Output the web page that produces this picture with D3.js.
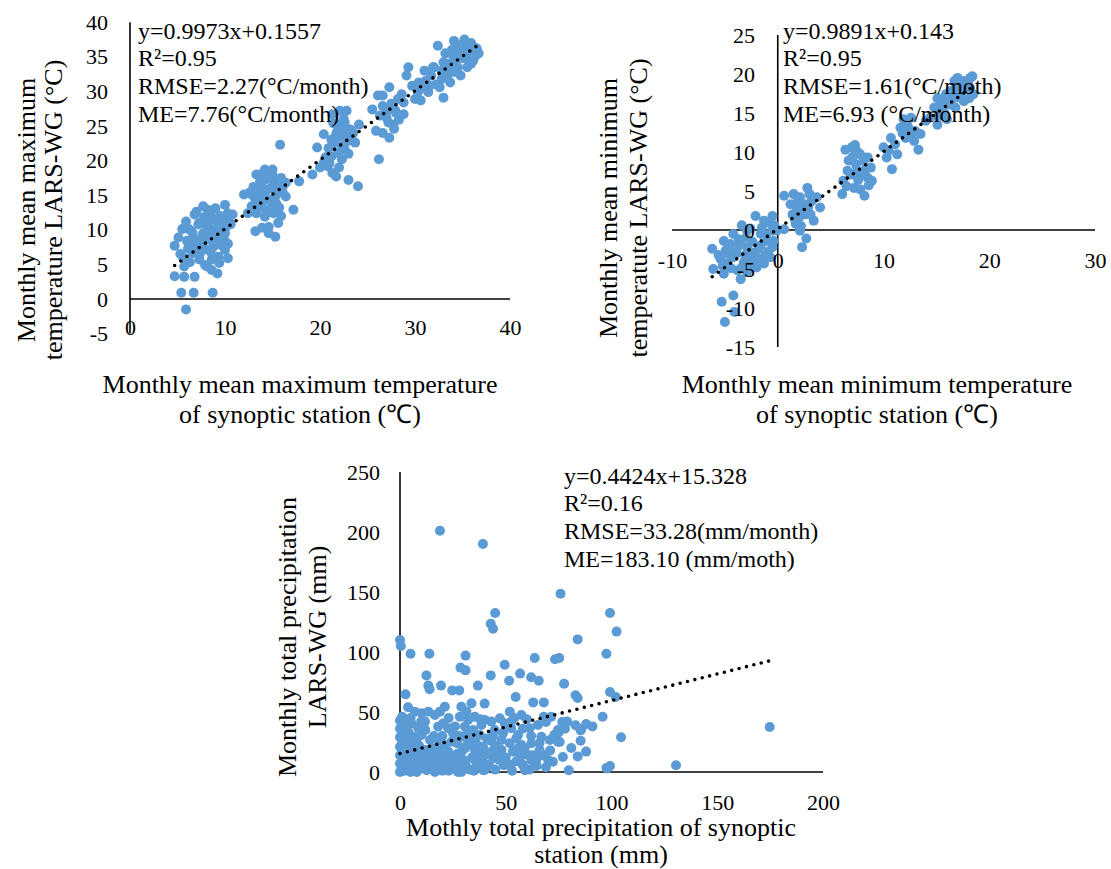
<!DOCTYPE html>
<html>
<head>
<meta charset="utf-8">
<script src="https://cdnjs.cloudflare.com/ajax/libs/d3/7.8.5/d3.min.js"></script>
<style>
body{margin:0;background:#fff}
svg text{font-family:"Liberation Serif","Times New Roman",serif;fill:#000}
</style>
</head>
<body>
<svg id="chart"></svg>
<script>

// ---- data ----
var tmaxTicksX = [0,10,20,30,40];
var tmaxTicksY = [-5,0,5,10,15,20,25,30,35,40];
var tminTicksX = [-10,0,10,20,30];
var tminTicksY = [-15,-10,-5,0,5,10,15,20,25];
var precTicksX = [0,50,100,150,200];
var precTicksY = [0,50,100,150,200,250];

var tmaxFit = [0.9973,0.1557];
var tminFit = [0.9891,0.143];
var precFit = [0.4424,15.328];

var tmaxStats = ["y=0.9973x+0.1557","R²=0.95","RMSE=2.27(°C/month)","ME=7.76(°C/month)"];
var tminStats = ["y=0.9891x+0.143","R²=0.95","RMSE=1.61(°C/moth)","ME=6.93 (°C/month)"];
var precStats = ["y=0.4424x+15.328","R²=0.16","RMSE=33.28(mm/month)","ME=183.10 (mm/moth)"];

var tmaxTitles = {x:["Monthly mean maximum temperature","of synoptic station (℃)"],
                  y:["Monthly mean maximum","temperature LARS-WG (°C)"]};
var tminTitles = {x:["Monthly mean minimum temperature","of synoptic station (℃)"],
                  y:["Monthly mean minimum","temperatute LARS-WG (°C)"]};
var precTitles = {x:["Mothly total precipitation of synoptic","station (mm)"],
                  y:["Monthly total precipitation","LARS-WG (mm)"]};

// [station, LARS-WG]
var tmaxPoints = [
[5.9,-1.5],[5.4,0.9],[6.7,0.9],[8.7,0.9],[4.7,3.3],[5.7,3.2],[6.8,3.2],[5.7,4.7],[4.7,7.7],[5.3,6.5],
[5.9,11.2],[6.2,10.1],[5.5,10.1],[6.6,9.5],[7.0,8.6],[7.7,13.4],[8.2,12.9],[7.3,11.0],[8.1,12.0],[8.8,11.5],
[9.5,12.0],[10.0,13.6],[10.3,12.4],[10.4,11.5],[10.0,9.5],[8.3,8.6],[8.8,7.6],[9.3,6.1],[7.3,5.7],[8.1,4.7],
[8.6,4.2],[9.2,3.7],[10.3,5.9],[10.0,7.1],[10.3,8.0],[6.1,7.3],[6.6,6.6],[7.7,9.5],[8.1,10.5],[9.0,10.0],
[9.5,9.5],[9.9,8.6],[8.6,5.7],[6.5,9.8],[7.2,10.8],[7.8,11.8],[8.4,10.2],[9.1,11.3],[9.8,10.7],[7.5,8.2],
[8.0,7.2],[8.9,9.1],[9.6,7.8],[6.0,8.4],[6.9,7.5],[7.3,6.4],[8.5,6.8],[9.4,5.2],[10.6,10.8],[10.8,12.2],
[5.1,8.9],[6.3,5.3],[9.0,13.1],[8.5,12.3],[7.9,4.9],[6.8,12.2],[5.6,6.0],[7.0,12.6],[8.3,9.6],[9.7,11.9],
[6.4,8.2],[7.6,7.0],[9.2,8.3],[8.0,11.2],[10.1,10.4],
[13.2,9.8],[13.9,10.3],[14.6,9.5],[15.3,9.0],[12.0,15.1],[12.6,15.4],[13.3,18.0],[14.2,18.7],[15.0,18.7],[13.7,17.0],
[14.4,17.3],[15.2,16.8],[15.9,17.5],[16.1,16.3],[13.2,14.4],[13.9,13.9],[14.6,14.4],[15.3,14.8],[13.3,12.4],[14.2,11.9],
[15.1,12.4],[15.7,13.2],[15.9,12.0],[16.1,15.3],[16.4,14.8],[15.8,22.3],[17.2,12.9],[17.8,17.0],[13.7,15.3],[14.4,15.8],
[12.8,13.4],[12.4,12.4],[13.0,16.2],[13.8,16.5],[14.8,16.0],[15.5,15.6],[14.1,14.6],[14.9,13.3],[13.5,13.0],[15.6,11.0],
[14.4,12.8],[12.9,15.0],[16.4,16.8],[15.0,17.9],[14.6,10.4],[14.0,18.2],[14.8,17.6],[13.6,14.2],[15.4,13.8],
[19.2,18.0],[19.7,21.9],[20.4,23.8],[20.8,19.2],[21.3,18.2],[21.7,17.7],[21.2,20.6],[21.9,21.1],[22.6,21.6],[21.2,23.0],
[22.1,23.5],[22.8,24.0],[21.3,26.7],[22.1,27.2],[22.8,27.2],[21.9,25.2],[22.6,25.5],[23.2,24.5],[23.0,17.2],[24.0,16.3],
[24.1,25.2],[23.7,22.6],[20.4,19.7],[22.3,20.2],[23.3,23.3],[20.9,21.8],[21.5,22.5],[22.3,22.1],[21.8,24.2],[22.5,26.0],
[20.6,20.5],[21.0,19.6],[23.0,21.0],[22.0,19.0],[23.5,24.0],[21.4,25.4],[20.0,19.0],[22.9,22.8],[21.7,23.8],[22.4,24.6],
[26.2,20.2],[25.9,24.3],[26.6,24.0],[27.3,23.3],[25.5,27.4],[26.1,29.4],[26.6,29.4],[27.3,30.6],[26.6,27.9],[27.3,27.4],
[28.0,26.9],[27.0,26.2],[27.7,25.2],[28.3,25.9],[28.8,26.7],[28.6,29.6],[28.8,28.4],[26.9,26.8],[27.5,28.2],[27.9,27.3],
[26.3,26.5],[28.2,28.9],[27.2,25.5],[27.8,24.6],
[29.3,33.5],[29.1,32.3],[29.7,30.8],[30.4,31.3],[31.1,31.5],[30.0,28.9],[30.6,28.7],[31.0,33.0],[30.3,29.9],[31.4,29.9],
[31.9,33.5],[32.4,36.6],[33.0,29.1],[32.6,30.6],[34.8,32.3],[32.0,33.5],[32.8,33.0],[33.5,32.5],[33.2,35.5],[33.9,36.0],
[34.6,36.5],[34.1,37.3],[35.2,37.5],[35.9,37.0],[36.3,35.0],[36.7,35.5],[33.5,34.0],[34.3,34.5],[35.0,34.8],[35.5,33.5],
[35.9,34.0],[32.8,31.8],[33.7,31.3],[35.7,36.0],[36.3,36.3],[31.7,32.3],[30.8,30.5],[31.5,30.8],[32.2,31.0],[33.0,34.2],
[34.0,35.2],[34.7,35.6],[35.3,35.9],[35.8,35.3],[36.1,34.4],[34.5,33.5],[33.8,33.0],[35.0,36.8],[34.2,32.8],[36.5,36.2],
[35.6,34.6]
];

var tminPoints = [
[-5.0,-11.8],[-5.3,-9.2],[-4.2,-8.4],[-4.1,-10.5],[-6.2,-2.4],[-6.1,-5.0],[-5.1,-1.4],[-4.5,-1.8],[-3.8,-2.2],[-5.4,-3.7],
[-4.8,-4.3],[-4.2,-3.5],[-5.1,-5.6],[-3.5,-6.3],[-3.8,-5.2],[-3.4,0.6],[-2.9,-0.1],[-3.5,-1.4],[-2.9,-2.2],[-2.3,-2.9],
[-2.6,-3.9],[-2.0,-4.8],[-1.3,-4.3],[-2.1,1.8],[-1.3,1.2],[-0.5,1.8],[-1.6,-0.5],[-1.0,-1.4],[-0.5,-0.1],[-1.8,-2.4],
[-1.2,-3.3],[-0.5,-2.2],[-2.9,-5.4],[-3.4,-4.8],[-4.2,-0.5],[-4.6,-3.1],[-0.7,-3.5],[-0.4,-1.4],[-0.1,-0.1],[-4.9,-2.6],
[-3.9,-3.0],[-3.1,-3.2],[-2.4,-1.5],[-1.9,-3.6],[-1.5,0.3],[-0.9,-2.8],[-2.6,0.2],[-3.2,-4.1],[-4.4,-4.9],[-5.6,-3.2],
[-2.2,-4.3],[-1.1,-0.6],[-0.3,0.6],[-3.7,-1.2],[-4.0,-2.7],[-3.0,-1.0],[-2.5,-4.5],[-1.6,-2.0],[-0.8,0.9],[-5.2,-4.6],
[0.6,0.1],[0.6,4.4],[1.5,4.6],[2.1,4.2],[2.8,5.4],[1.2,3.3],[1.8,2.9],[2.5,3.3],[1.4,2.0],[2.0,1.6],
[2.6,2.0],[1.7,0.8],[2.1,-0.1],[2.7,-1.1],[2.3,-2.2],[3.2,3.7],[3.7,4.2],[4.0,2.9],[3.1,2.0],[3.4,1.2],
[1.9,3.8],[2.4,2.6],[2.9,3.0],[1.6,1.4],[2.2,0.5],[3.0,4.6],
[6.1,4.6],[8.2,4.4],[6.4,10.3],[7.0,10.6],[7.5,10.1],[7.8,9.7],[6.2,6.3],[6.9,7.1],[7.5,7.6],[6.7,8.9],
[7.4,8.4],[8.1,8.9],[8.5,9.3],[8.8,8.0],[7.2,5.4],[7.8,5.2],[8.6,5.7],[6.6,7.6],[8.5,6.7],[8.9,6.3],
[7.1,9.4],[7.9,7.0],[8.3,7.8],[6.5,5.6],[7.6,6.4],[7.3,10.9],
[10.0,10.6],[10.3,9.3],[10.8,7.8],[10.7,11.8],[11.1,11.0],[11.6,13.1],[12.1,11.8],[12.6,12.3],[11.9,14.2],[12.6,14.4],
[13.3,10.3],[13.0,12.7],[13.5,12.3],[11.3,9.7],[11.8,12.4],[12.3,13.3],[10.5,10.2],[12.9,11.4],
[14.0,14.0],[14.4,14.4],[15.1,13.5],[14.8,15.7],[15.4,16.1],[15.7,16.5],[15.1,16.9],[15.9,17.4],[16.3,17.8],[16.7,19.1],
[17.0,19.5],[17.6,19.1],[18.2,19.5],[18.4,19.7],[18.5,17.4],[18.1,16.9],[17.6,16.5],[16.8,18.2],[17.3,17.6],[16.3,16.1],
[16.8,15.7],[17.6,18.0],[18.2,18.2],[15.7,15.2],[15.2,14.6],[16.0,14.2],[17.0,17.0],[18.0,18.8],[16.5,16.9]
];

var precPoints = [
[18.9,201],[39.2,190],[0,110],[0.4,105],[5,98.6],[13.9,98.6],[31,97],[75.9,148.6],[45,132.5],[42.9,123.6],
[44,119.4],[99.3,132.5],[102.4,117],[84,110.5],[97.6,98.6],[63.7,95],[73.3,94],[75.3,95],[49.5,89.4],[28.6,87],
[31,84.7],[42.9,80.5],[51.6,76],[56.8,82],[62,79],[65.6,76],[77.6,73.6],[12.5,80.5],[13.4,72],[2.6,64.7],
[14,69],[19.4,72],[24.7,68],[28,68],[36.8,72],[99.3,66.7],[102,62.5],[54.7,62.5],[83,64],[84,61.7],
[63,58],[68,58],[40,57],[3.8,54],[95.8,46],[104.5,29],[174.8,37.5],[130.5,5.6],[97.6,3.3],[99.3,5],
[88,17],[85.4,26],[85.4,34.7],[77,12.5],[79.8,1.4],[75,33],[76.7,41.7],[69,41.7],[71.5,46],[59,1.4],
[28,1.4],[29,16.7],[30,20],[49,5.6],[51.6,5.6],[39.4,1.4],[79,42],[83,39],[85.7,35.6],[75.5,25],
[74.7,35],[98,3],
[0,43],[0,36],[0,29],[0,21],[0,14],[0,7],[0,0],[1.6,40],[2.4,27],[1.5,4],
[7,50.3],[10.2,49],[13.4,50.3],[5.5,40.5],[8.6,36.4],[11.8,42],[6.3,29.4],[10.2,30.8],[14.2,26.7],[4.7,19.7],
[7.9,15.6],[11.8,18.3],[5.5,9.7],[9.4,7],[13.4,11.1],[3.9,1.4],[7.9,0],[12.6,1.4],[16.5,0],[18,37.8],
[20.4,40.5],[22.8,36.4],[25.1,32.2],[16.5,47.5],[18.9,50.3],[21.2,54.4],[18,26.7],[21.2,22.5],[24.4,25.3],[18.9,15.6],
[22.8,17],[25.9,12.8],[20.4,5.8],[24.4,3],[29,0],[29,54.4],[31.4,50.3],[33.8,57.2],[28.3,46.1],[32.2,43.3],
[35.4,46.1],[30.7,37.8],[34.6,35],[38.5,39.2],[29.9,29.4],[33.8,26.7],[37.7,30.8],[30.7,19.7],[35.4,18.3],[39.3,21.1],
[43.2,16.9],[35.4,10],[40.1,14.2],[44,11.4],[40.1,43.3],[43.2,42],[47.2,44.7],[49.5,40.6],[44.8,35],[48.7,32.2],
[52.6,36.4],[55.8,30.8],[48,26.7],[51.9,24],[55,28.1],[57.4,22.5],[48,18.3],[53.4,17],[58.9,19.7],[60.5,14.2],
[51.9,50.3],[57.4,47.5],[52.6,42],[61.3,36.4],[65.2,39.2],[66.8,29.4],[62.1,23.9],[66,18.3],[67.6,14.2],[64.5,5.8],
[70,10],[72.3,8.6],[70.8,26.7],[74.7,25.3],[49.5,6],[52.4,6],[59,3],[64.5,5],[40,1.7],[27.4,0],
[29.4,4.4],[3,12],[2,22],[4,33],[1,46],[6,3],[9,22],[3,3],[1,1],[5,0],
[10,4],[14,6],[17,9],[19,2],[21,11],[23,1],[26,8],[31,6],[33,2],[36,4],
[38,8],[42,6],[45,2],[47,10],[55,9],[57,13],[62,10],[2,17],[6,24],[15,20],
[27,24],[36,24],[41,28],[45,22],[58,36],[60,44],[68,46],[73,31],[78,36],[81,20],
[84,13],[88,40],[91,38],
[1,10],[2,6],[3,8],[4,15],[1,25],[2,32],[3,38],[5,45],[1,18],[6,12],
[7,5],[8,9],[2,1],[4,5],[6,18],[8,28],[9,14],[11,8],[12,12],[13,3],
[15,14],[16,30],[17,4],[18,20],[20,1],[22,8],[24,12],[25,4],[27,15],[28,30],
[30,10],[32,33],[34,12],[35,1],[37,15],[39,11],[41,4],[43,26],[46,14],[50,12],
[53,1],[56,20],[58,6],[61,2],[63,14],[66,24],[69,4],[71,18],[10,42],[12,35],
[20,30],[23,45],[26,38],[32,23],[38,44],[44,30],[50,37],[54,45],[62,30],[65,12]
];

// ---- layout ----
var screen = {width:1111, height:869};

var panels = [
    {points:tmaxPoints, fit:tmaxFit, stats:tmaxStats, titles:tmaxTitles,
     ticksX:tmaxTicksX, ticksY:tmaxTicksY,
     xRange:[130,510], yRange:[333.6,22.2],
     xLabelY:319, yLabelX:108,
     statsX:138, statsY:[39,66,94,122],
     yTitleX:[35,62], yTitleY:210,
     xTitleX:300, xTitleY:[393,423]},
    {points:tminPoints, fit:tminFit, stats:tminStats, titles:tminTitles,
     ticksX:tminTicksX, ticksY:tminTicksY,
     xRange:[672,1095], yRange:[347,35],
     xLabelY:252, yLabelX:755,
     statsX:783, statsY:[39,66,94,122],
     yTitleX:[617,647], yTitleY:208,
     xTitleX:877, xTitleY:[393,423]},
    {points:precPoints, fit:precFit, stats:precStats, titles:precTitles,
     ticksX:precTicksX, ticksY:precTicksY,
     xRange:[400,823], yRange:[772,472],
     xLabelY:794, yLabelX:380,
     statsX:564, statsY:[484,511,539,567],
     yTitleX:[296,326], yTitleY:637,
     xTitleX:601, xTitleY:[836,863]}
];

var svg = d3.select("#chart")
    .attr("width",screen.width)
    .attr("height",screen.height);

var drawPanel = function(svg,p)
{
    var xScale = d3.scaleLinear()
        .domain(d3.extent(p.ticksX))
        .range(p.xRange);
    var yScale = d3.scaleLinear()
        .domain(d3.extent(p.ticksY))
        .range(p.yRange);

    var g = svg.append("g").classed("panel",true);

    // axis lines crossing at zero
    g.append("line")
        .attr("x1",xScale(d3.min(p.ticksX)))
        .attr("x2",xScale(d3.max(p.ticksX)))
        .attr("y1",yScale(0))
        .attr("y2",yScale(0))
        .attr("stroke","#000")
        .attr("stroke-width",1.6);
    g.append("line")
        .attr("x1",xScale(0))
        .attr("x2",xScale(0))
        .attr("y1",yScale(d3.min(p.ticksY)))
        .attr("y2",yScale(d3.max(p.ticksY)))
        .attr("stroke","#000")
        .attr("stroke-width",1.6);

    g.selectAll("circle")
        .data(p.points)
        .enter()
        .append("circle")
        .attr("cx",function(d){return xScale(d[0]);})
        .attr("cy",function(d){return yScale(d[1]);})
        .attr("r",5)
        .attr("fill","#5B9BD5");

    // linear trend over the range of the station values
    var ext = d3.extent(p.points,function(d){return d[0];});
    var line = d3.line()
        .x(function(d){return xScale(d);})
        .y(function(d){return yScale(p.fit[0]*d+p.fit[1]);});
    g.append("path")
        .datum(ext)
        .attr("d",line)
        .attr("fill","none")
        .attr("stroke","#000")
        .attr("stroke-width",3.6)
        .attr("stroke-linecap","round")
        .attr("stroke-dasharray","0 7.6");

    var fmt = function(d){return String(d);};

    var xAxis = g.append("g")
        .attr("transform","translate(0,"+p.xLabelY+")")
        .call(d3.axisBottom(xScale).tickValues(p.ticksX).tickFormat(fmt)
              .tickSize(0).tickPadding(0));
    var yAxis = g.append("g")
        .attr("transform","translate("+p.yLabelX+",0)")
        .call(d3.axisLeft(yScale).tickValues(p.ticksY).tickFormat(fmt)
              .tickSize(0).tickPadding(0));
    [xAxis,yAxis].forEach(function(a)
    {
        a.attr("font-size",22)
         .attr("font-family",null);
        a.select(".domain").remove();
        a.selectAll("text").attr("fill","#000");
    });

    g.selectAll("text.stat")
        .data(p.stats)
        .enter()
        .append("text")
        .classed("stat",true)
        .attr("x",p.statsX)
        .attr("y",function(d,i){return p.statsY[i];})
        .attr("font-size",24)
        .text(function(d){return d;});

    g.selectAll("text.xtitle")
        .data(p.titles.x)
        .enter()
        .append("text")
        .classed("xtitle",true)
        .attr("x",p.xTitleX)
        .attr("y",function(d,i){return p.xTitleY[i];})
        .attr("text-anchor","middle")
        .attr("font-size",26)
        .text(function(d){return d;});

    g.selectAll("text.ytitle")
        .data(p.titles.y)
        .enter()
        .append("text")
        .classed("ytitle",true)
        .attr("transform",function(d,i)
              {
                return "translate("+p.yTitleX[i]+","+p.yTitleY+") rotate(-90)";
              })
        .attr("text-anchor","middle")
        .attr("font-size",26)
        .text(function(d){return d;});
};

panels.forEach(function(p){drawPanel(svg,p);});

</script>
</body>
</html>
